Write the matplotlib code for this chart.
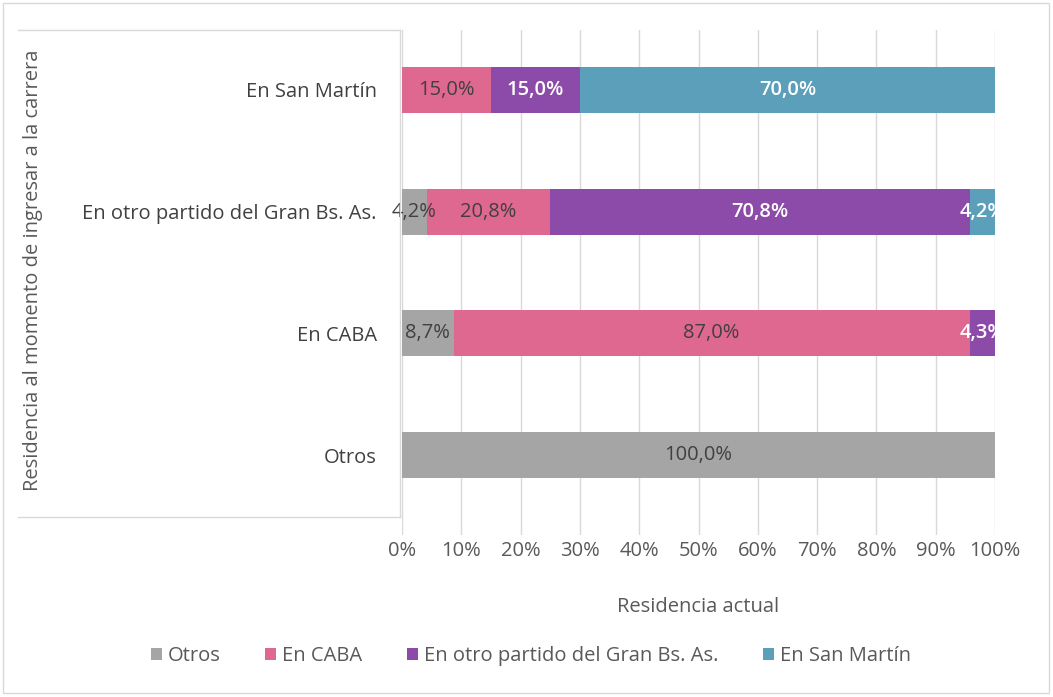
import matplotlib
matplotlib.use("Agg")
import matplotlib.pyplot as plt
from matplotlib.patches import Rectangle
from matplotlib.lines import Line2D
from matplotlib.transforms import Bbox, TransformedBbox
import numpy as np

categories = ["Otros", "En CABA", "En otro partido del Gran Bs. As.", "En San Martín"]
series_names = ["Otros", "En CABA", "En otro partido del Gran Bs. As.", "En San Martín"]
otros = [100.0, 8.7, 4.2, 0.0]
caba = [0.0, 87.0, 20.8, 15.0]
gran_bsas = [0.0, 4.3, 70.8, 15.0]
san_martin = [0.0, 0.0, 4.2, 70.0]
x_ticks = [0, 10, 20, 30, 40, 50, 60, 70, 80, 90, 100]
x_ticklabels = [f"{t}%" for t in x_ticks]

colors = ["#A5A5A5", "#DF6890", "#8C4BA8", "#5B9FBA"]
label_colors = ["#404040", "#404040", "#FFFFFF", "#FFFFFF"]
label_weights = ["normal", "normal", "semibold", "semibold"]

FS = 14.5
plt.rcParams["font.family"] = ["Open Sans", "DejaVu Sans"]

fig = plt.figure(figsize=(10.53, 6.97), dpi=100)
ax = fig.add_axes([402 / 1053, 1 - 535 / 697, (995 - 402) / 1053, (535 - 30) / 697])

y = np.arange(len(categories))
left = np.zeros(len(categories))
all_series = [otros, caba, gran_bsas, san_martin]
clipbox = TransformedBbox(Bbox([[-0.2, 0], [1.0, 1.0]]), ax.transAxes)
for vals, name, col, lc, lw in zip(all_series, series_names, colors, label_colors, label_weights):
    vals = np.array(vals)
    ax.barh(y, vals, left=left, height=0.38, color=col, label=name, zorder=3)
    for yi, (v, l) in enumerate(zip(vals, left)):
        if v > 0:
            t = ax.text(l + v / 2, yi, f"{v:.1f}%".replace(".", ","), ha="center", va="center",
                        color=lc, fontsize=FS, fontweight=lw, zorder=4, clip_on=True)
            t.set_clip_box(clipbox)
    left = left + vals

ax.set_xlim(0, 100)
ax.set_ylim(-0.657, 3.493)
ax.set_xticks(x_ticks)
ax.set_xticklabels(x_ticklabels, color="#595959", fontsize=FS)
ax.set_yticks(y)
ax.set_yticklabels(categories, color="#404040", fontsize=FS)
ax.tick_params(axis="both", length=0)
ax.tick_params(axis="y", pad=18)
ax.tick_params(axis="x", pad=4)
ax.grid(axis="x", color="#D9D9D9", linewidth=1, zorder=0)
for s in ax.spines.values():
    s.set_visible(False)

ax.set_xlabel("Residencia actual", color="#595959", fontsize=FS, labelpad=26)

fig.text(33 / 1053, 1 - 270 / 697, "Residencia al momento de ingresar a la carrera",
         rotation=90, ha="center", va="center", color="#595959", fontsize=FS)

# box around y label area
lc = "#D9D9D9"
fig.add_artist(Line2D([18 / 1053, 400 / 1053], [1 - 30 / 697, 1 - 30 / 697], color=lc, lw=1))
fig.add_artist(Line2D([18 / 1053, 400 / 1053], [1 - 517 / 697, 1 - 517 / 697], color=lc, lw=1))
fig.add_artist(Line2D([400 / 1053, 400 / 1053], [1 - 30 / 697, 1 - 517 / 697], color=lc, lw=1))
# outer border
fig.add_artist(Rectangle((3 / 1053, 4 / 697), 1046 / 1053, 690 / 697, transform=fig.transFigure,
                         fill=False, edgecolor="#D9D9D9", lw=1))

handles, labels = ax.get_legend_handles_labels()
fig.legend(handles, labels, loc="center", bbox_to_anchor=(531 / 1053, 1 - 656 / 697), ncol=4,
           frameon=False, fontsize=FS, handlelength=0.55, handleheight=0.55, handletextpad=0.3,
           columnspacing=2.2, labelcolor="#595959")

fig.savefig("out.png", dpi=100)
